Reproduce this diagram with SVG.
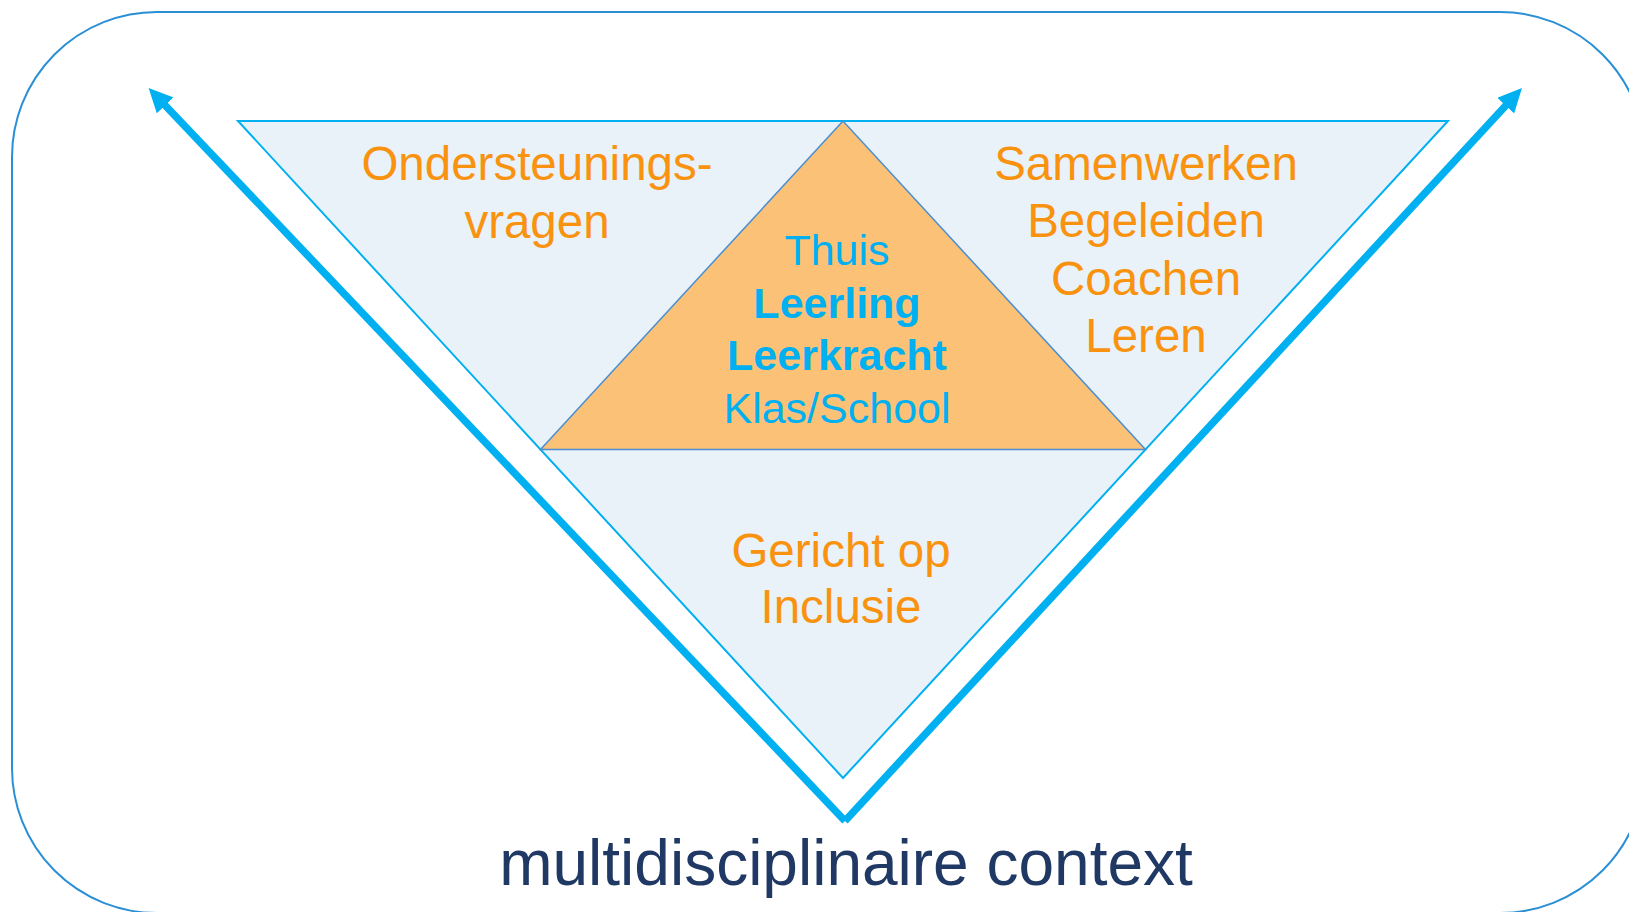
<svg xmlns="http://www.w3.org/2000/svg" width="1629" height="912" viewBox="0 0 1629 912">
  <style>
    .lbl { font-family: "Liberation Sans", Arial, sans-serif; text-anchor: middle; }
    .org { fill: #f9930f; font-size: 47.5px; }
    .blu { fill: #00b0f0; font-size: 43px; }
    .bold { font-weight: bold; }
    .arrow { stroke: #00b0f0; stroke-width: 7.5; fill: none; marker-end: url(#head); }
  </style>
  <defs>
    <marker id="head" markerUnits="userSpaceOnUse" markerWidth="24" markerHeight="23" refX="4" refY="11.5" orient="auto" viewBox="0 0 24 23">
      <path d="M0,0 L24,11.5 L0,23 z" fill="#00b0f0"/>
    </marker>
  </defs>
  <rect width="1629" height="912" fill="#ffffff"/>
  <g id="context-frame">
    <rect x="12" y="12" width="1633" height="901" rx="145" ry="145" fill="none" stroke="#2a8fd4" stroke-width="2"/>
  </g>
  <g id="outer-triangle">
    <polygon points="238,121 1448,121 843,778" fill="#e9f1f9" stroke="#00b0f0" stroke-width="2"/>
  </g>
  <g id="inner-triangle">
    <polygon points="843,121 540.5,449.5 1145.5,449.5" fill="#fbc177" stroke="#4a8fd0" stroke-width="1.5"/>
  </g>
  <g id="connectors">
    <line class="arrow" x1="845" y1="821" x2="162.4" y2="102.5"/>
    <line class="arrow" x1="845" y1="821" x2="1508.4" y2="102.7"/>
  </g>
  <g id="node-ondersteuningsvragen">
    <text class="lbl org" x="537" y="180">Ondersteunings-</text>
    <text class="lbl org" x="537" y="238">vragen</text>
  </g>
  <g id="node-samenwerken">
    <text class="lbl org" x="1146" y="180">Samenwerken</text>
    <text class="lbl org" x="1146" y="237">Begeleiden</text>
    <text class="lbl org" x="1146" y="295">Coachen</text>
    <text class="lbl org" x="1146" y="352">Leren</text>
  </g>
  <g id="node-centrum">
    <text class="lbl blu" x="837" y="265">Thuis</text>
    <text class="lbl blu bold" x="837" y="318">Leerling</text>
    <text class="lbl blu bold" x="837" y="370">Leerkracht</text>
    <text class="lbl blu" x="837" y="423">Klas/School</text>
  </g>
  <g id="node-inclusie">
    <text class="lbl org" x="841" y="567">Gericht op</text>
    <text class="lbl org" x="841" y="623">Inclusie</text>
  </g>
  <g id="node-context">
    <text class="lbl" x="846" y="885" fill="#1f3864" font-size="64">multidisciplinaire context</text>
  </g>
</svg>
